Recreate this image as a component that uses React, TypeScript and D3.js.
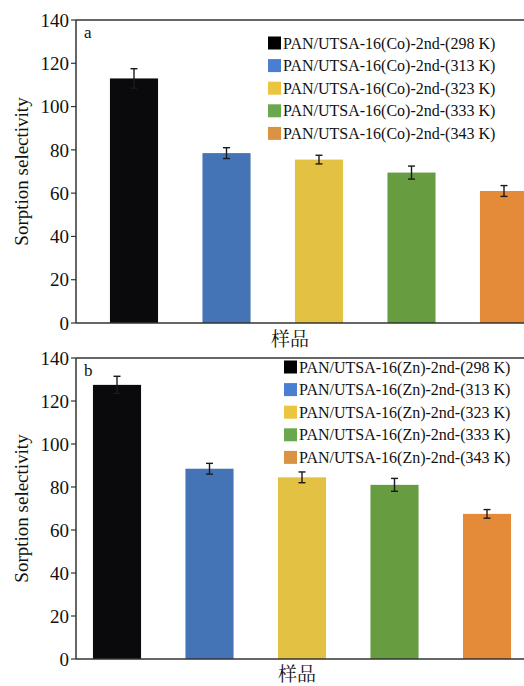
import React from 'react';
import * as d3 from 'd3';

const temps = ['298 K', '313 K', '323 K', '333 K', '343 K'];
const coValues = [113, 78.5, 75.5, 69.5, 61];
const coErrors = [4.5, 2.5, 2, 3, 2.5];
const znValues = [127.5, 88.5, 84.5, 81, 67.5];
const znErrors = [4, 2.5, 2.5, 3, 2];
const yTicks = [0, 20, 40, 60, 80, 100, 120, 140];
const barColors = ['#0a0a0c', '#4574b6', '#e3c143', '#679c40', '#e48b39'];
const swatchColors = ['#000000', '#4a7ed1', '#ebc440', '#6aa84f', '#d99342'];

const SERIF = "'Liberation Serif', 'Times New Roman', serif";
const CJK = "'Noto Serif CJK SC', 'Noto Sans CJK SC', serif";

type PanelProps = {
  tag: string;
  metal: string;
  values: number[];
  errors: number[];
  top: number;
  bottom: number;
  xStart: number;
  legendX: number;
  legendY: number;
  legendStep: number;
  xLabelX: number;
  xLabelY: number;
};

function Panel(p: PanelProps) {
  const axisX = 76;
  const step = 92.5;
  const x = d3
    .scaleBand<string>()
    .domain(temps)
    .range([p.xStart, p.xStart + step * temps.length])
    .paddingInner(0.48)
    .paddingOuter(0.24);
  const y = d3.scaleLinear().domain([0, 140]).range([p.bottom, p.top]);
  const bw = x.bandwidth();
  const midY = (p.top + p.bottom) / 2;
  const serif = { fontFamily: SERIF };

  return (
    <g>
      {temps.map((t, i) => (
        <rect
          key={t}
          x={x(t)}
          y={y(p.values[i])}
          width={bw}
          height={p.bottom - y(p.values[i])}
          fill={barColors[i]}
        />
      ))}
      {/* error bars: full I shape, lower half drawn over the bar */}
      {temps.map((t, i) => {
        const cx = (x(t) as number) + bw / 2;
        const hi = y(p.values[i] + p.errors[i]);
        const lo = y(p.values[i] - p.errors[i]);
        return (
          <g key={t} stroke="#1a1a1a" strokeWidth={1.4}>
            <line x1={cx} x2={cx} y1={lo} y2={hi} />
            <line x1={cx - 3.5} x2={cx + 3.5} y1={hi} y2={hi} />
            <line x1={cx - 3.5} x2={cx + 3.5} y1={lo} y2={lo} />
          </g>
        );
      })}
      {/* frame: left, bottom and top; right side is cut off */}
      <g stroke="#333" strokeWidth={1.5} fill="none">
        <line x1={axisX} x2={524} y1={p.top} y2={p.top} />
        <line x1={axisX} x2={524} y1={p.bottom} y2={p.bottom} />
        <line x1={axisX} x2={axisX} y1={p.top} y2={p.bottom} />
      </g>
      {yTicks.map((v) => (
        <g key={v}>
          <line x1={axisX - 5} x2={axisX} y1={y(v)} y2={y(v)} stroke="#333" strokeWidth={1.2} />
          <text
            x={axisX - 7}
            y={y(v)}
            dy="0.35em"
            textAnchor="end"
            style={serif}
            fontSize={19}
            fill="#111"
          >
            {v}
          </text>
        </g>
      ))}
      <text
        transform={`translate(28,${midY}) rotate(-90)`}
        textAnchor="middle"
        style={serif}
        fontSize={19}
        fill="#111"
      >
        Sorption selectivity
      </text>
      <text x={84} y={p.top + 18} style={serif} fontSize={17} fill="#111">
        {p.tag}
      </text>
      <text
        x={p.xLabelX}
        y={p.xLabelY}
        textAnchor="middle"
        style={{ fontFamily: CJK }}
        fontSize={19}
        fill="#111"
      >
        样品
      </text>
      {temps.map((t, i) => {
        const ly = p.legendY + i * p.legendStep;
        return (
          <g key={t}>
            <rect x={p.legendX} y={ly - 6.5} width={13} height={13} fill={swatchColors[i]} />
            <text
              x={p.legendX + 15}
              y={ly}
              dy="0.35em"
              style={serif}
              fontSize={16}
              fill="#111"
            >
              {`PAN/UTSA-16(${p.metal})-2nd-(${t})`}
            </text>
          </g>
        );
      })}
    </g>
  );
}

export default function App() {
  return (
    <div style={{ position: 'absolute', left: 0, top: 0 }}>
      <svg width={524} height={686} style={{ display: 'block', background: '#fff' }}>
        <Panel
          tag="a"
          metal="Co"
          values={coValues}
          errors={coErrors}
          top={20}
          bottom={323}
          xStart={87.75}
          legendX={268}
          legendY={43}
          legendStep={22.6}
          xLabelX={290}
          xLabelY={346}
        />
        <Panel
          tag="b"
          metal="Zn"
          values={znValues}
          errors={znErrors}
          top={358}
          bottom={659}
          xStart={70.75}
          legendX={284}
          legendY={367}
          legendStep={22.6}
          xLabelX={297}
          xLabelY={681}
        />
      </svg>
    </div>
  );
}
